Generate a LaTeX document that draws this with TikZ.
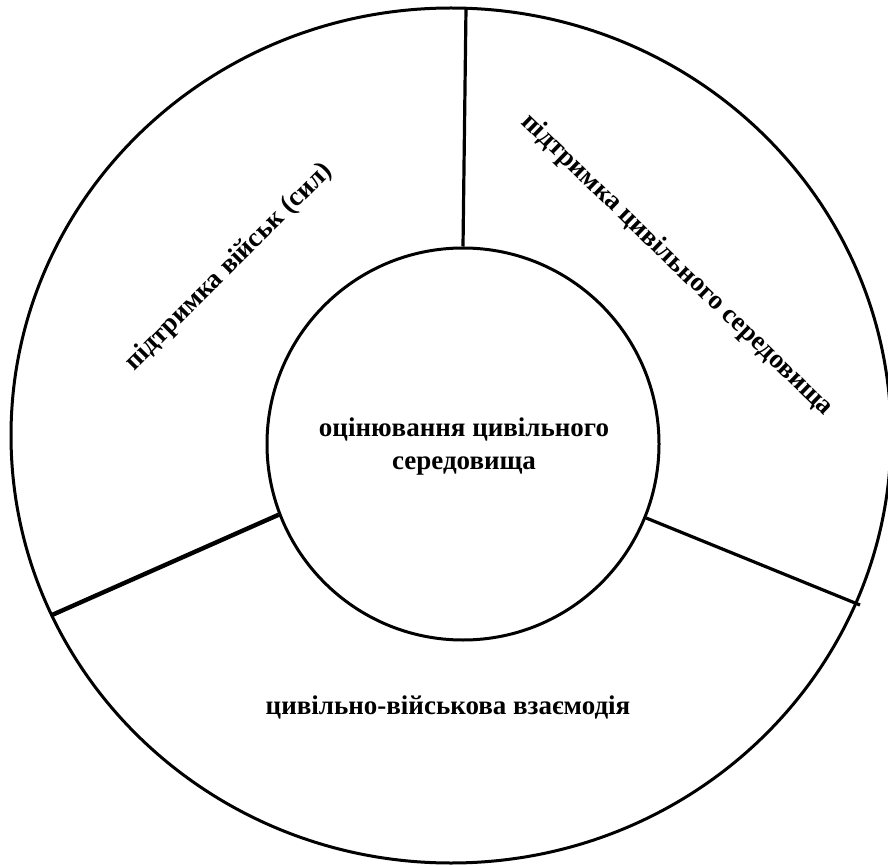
\documentclass[tikz,border=0pt]{standalone}
\usepackage{fontspec}
\setmainfont{Liberation Serif}
\usetikzlibrary{shapes.geometric}
\begin{document}
\begin{tikzpicture}[x=1pt,y=-1pt,
  ring/.style={draw=black, line width=3pt, inner sep=0pt},
  divider/.style={draw=black, line width=3.2pt},
  lbl/.style={font=\fontsize{27}{33}\selectfont\bfseries, inner sep=0pt, align=center}]
\useasboundingbox (0,0) rectangle (888,866);
\fill[white] (0,0) rectangle (888,866);
\node[ring, ellipse, minimum width=880pt, minimum height=855pt] (outer) at (451,435.5) {};
\node[ring, circle, minimum size=392pt] (inner) at (463,444) {};
\node[lbl] (centre) at (464,447) {оцінювання цивільного\\середовища};
\coordinate (otop) at (466,8);
\coordinate (oleft) at (52,615);
\coordinate (oright) at (860,605);
\draw[divider] (otop) -- (inner.north);
\draw[divider, line width=4.4pt] (oleft) -- (inner.201);
\draw[divider] (oright) -- (inner.338);
\node[lbl, rotate=45] (left) at (229,267) {підтримка військ (сил)};
\node[lbl, rotate=-44] (right) at (677,265) {підтримка цивільного середовища};
\node[lbl] (bottom) at (448,707) {цивільно-військова взаємодія};
\end{tikzpicture}
\end{document}
